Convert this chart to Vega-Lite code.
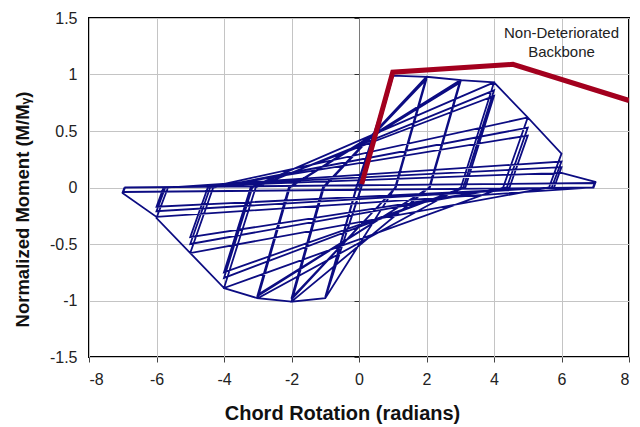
{
  "$schema": "https://vega.github.io/schema/vega-lite/v6.json",
  "width": 540,
  "height": 339,
  "autosize": {"type": "none"},
  "padding": {"left": 89, "top": 18, "right": 11, "bottom": 70},
  "background": "white",
  "config": {
    "view": {"stroke": "#000000", "strokeWidth": 2},
    "axis": {
      "grid": true,
      "gridColor": "#c4c4c4",
      "gridWidth": 1,
      "domain": false,
      "labelFont": "Liberation Sans",
      "labelFontSize": 16,
      "labelColor": "#222222",
      "titleFont": "Liberation Sans",
      "titleFontSize": 20,
      "titleFontWeight": "bold",
      "titleColor": "#111111"
    }
  },
  "datasets": {
    "hys": [
      {"i": 1, "x": 0, "y": 0}, {"i": 2, "x": 1, "y": 0.99}, {"i": 3, "x": 0.06, "y": 0},
      {"i": 4, "x": -1, "y": -0.98}, {"i": 5, "x": -0.07, "y": 0}, {"i": 6, "x": 1, "y": 0.98},
      {"i": 7, "x": 0.07, "y": 0}, {"i": 8, "x": -1, "y": -0.97}, {"i": 9, "x": -0.08, "y": 0},
      {"i": 10, "x": 1, "y": 0.98}, {"i": 11, "x": 0.07, "y": 0}, {"i": 12, "x": -1, "y": -0.97},
      {"i": 13, "x": -0.08, "y": 0},
      {"i": 14, "x": 1, "y": 0.99}, {"i": 15, "x": 2, "y": 0.98}, {"i": 16, "x": 1.07, "y": 0},
      {"i": 17, "x": -1, "y": -0.98}, {"i": 18, "x": -2, "y": -1.01}, {"i": 19, "x": -1.04, "y": 0},
      {"i": 20, "x": 2, "y": 0.97}, {"i": 21, "x": 1.08, "y": 0}, {"i": 22, "x": -2, "y": -0.99},
      {"i": 23, "x": -1.06, "y": 0}, {"i": 24, "x": 2, "y": 0.96}, {"i": 25, "x": 1.09, "y": 0},
      {"i": 26, "x": -2, "y": -0.98}, {"i": 27, "x": -1.07, "y": 0},
      {"i": 28, "x": 2, "y": 0.98}, {"i": 29, "x": 3, "y": 0.95}, {"i": 30, "x": 2.08, "y": 0},
      {"i": 31, "x": -2, "y": -1.01}, {"i": 32, "x": -3, "y": -0.98}, {"i": 33, "x": -2.05, "y": 0},
      {"i": 34, "x": 3, "y": 0.94}, {"i": 35, "x": 2.09, "y": 0}, {"i": 36, "x": -3, "y": -0.96},
      {"i": 37, "x": -2.07, "y": 0}, {"i": 38, "x": 3, "y": 0.93}, {"i": 39, "x": 2.1, "y": 0},
      {"i": 40, "x": -3, "y": -0.95}, {"i": 41, "x": -2.08, "y": 0},
      {"i": 42, "x": 3, "y": 0.95}, {"i": 43, "x": 4, "y": 0.93}, {"i": 44, "x": 3.02, "y": 0},
      {"i": 45, "x": -3, "y": -0.98}, {"i": 46, "x": -4, "y": -0.89}, {"i": 47, "x": -3.06, "y": 0},
      {"i": 48, "x": 4, "y": 0.86}, {"i": 49, "x": 3.09, "y": 0}, {"i": 50, "x": -4, "y": -0.8},
      {"i": 51, "x": -3.16, "y": 0}, {"i": 52, "x": 4, "y": 0.81}, {"i": 53, "x": 3.15, "y": 0},
      {"i": 54, "x": -4, "y": -0.75}, {"i": 55, "x": -3.21, "y": 0},
      {"i": 56, "x": 4, "y": 0.93}, {"i": 57, "x": 5, "y": 0.62}, {"i": 58, "x": 4.27, "y": 0},
      {"i": 59, "x": -4, "y": -0.89}, {"i": 60, "x": -5, "y": -0.58}, {"i": 61, "x": -4.32, "y": 0},
      {"i": 62, "x": 5, "y": 0.53}, {"i": 63, "x": 4.38, "y": 0}, {"i": 64, "x": -5, "y": -0.5},
      {"i": 65, "x": -4.41, "y": 0}, {"i": 66, "x": 5, "y": 0.46}, {"i": 67, "x": 4.46, "y": 0},
      {"i": 68, "x": -5, "y": -0.44}, {"i": 69, "x": -4.48, "y": 0},
      {"i": 70, "x": 5, "y": 0.62}, {"i": 71, "x": 6, "y": 0.3}, {"i": 72, "x": 5.63, "y": 0},
      {"i": 73, "x": -5, "y": -0.58}, {"i": 74, "x": -6, "y": -0.27}, {"i": 75, "x": -5.66, "y": 0},
      {"i": 76, "x": 6, "y": 0.23}, {"i": 77, "x": 5.71, "y": 0}, {"i": 78, "x": -6, "y": -0.21},
      {"i": 79, "x": -5.74, "y": 0}, {"i": 80, "x": 6, "y": 0.18}, {"i": 81, "x": 5.78, "y": 0},
      {"i": 82, "x": -6, "y": -0.17}, {"i": 83, "x": -5.79, "y": 0},
      {"i": 84, "x": 6, "y": 0.13}, {"i": 85, "x": 7, "y": 0.05}, {"i": 86, "x": 6.93, "y": 0},
      {"i": 87, "x": -6, "y": -0.26}, {"i": 88, "x": -7, "y": -0.05}, {"i": 89, "x": -6.93, "y": 0},
      {"i": 90, "x": 7, "y": 0.04}, {"i": 91, "x": 6.95, "y": 0}, {"i": 92, "x": -7, "y": -0.04},
      {"i": 93, "x": -6.95, "y": 0}
    ],
    "backbone": [
      {"i": 1, "x": 0.08, "y": 0.03},
      {"i": 2, "x": 1.0, "y": 1.02},
      {"i": 3, "x": 4.56, "y": 1.09},
      {"i": 4, "x": 8.0, "y": 0.77}
    ],
    "label": [
      {"x": 6.0, "y": 1.367, "text": "Non-Deteriorated"},
      {"x": 6.0, "y": 1.199, "text": "Backbone"}
    ]
  },
  "resolve": {"axis": {"y": "independent"}},
  "layer": [
    {
      "data": {"name": "hys"},
      "mark": {"type": "line", "color": "#0c0c82", "strokeWidth": 1.8, "clip": true},
      "encoding": {
        "x": {
          "field": "x", "type": "quantitative",
          "scale": {"domain": [-8, 8], "nice": false},
          "axis": {
            "title": "Chord Rotation (radians)",
            "values": [-8, -6, -4, -2, 0, 2, 4, 6, 8],
            "labelExpr": "datum.value + ''",
            "ticks": true, "tickSize": 5, "tickColor": "#444444",
            "labelPadding": 9,
            "titleX": 253, "titleY": 46, "titleBaseline": "top"
          }
        },
        "y": {
          "field": "y", "type": "quantitative",
          "scale": {"domain": [-1.5, 1.5], "nice": false},
          "axis": {
            "orient": "left",
            "title": "Normalized Moment (M/Mᵧ)",
            "titleFontSize": 18.5,
            "values": [-1.5, -1, -0.5, 0, 0.5, 1, 1.5],
            "labelExpr": "datum.value + ''",
            "ticks": false,
            "labelPadding": 12,
            "titleX": -67, "titleY": 191, "titleAngle": -90,
            "titleBaseline": "middle", "titleAlign": "center"
          }
        },
        "order": {"field": "i", "type": "quantitative"}
      }
    },
    {
      "data": {"name": "backbone"},
      "mark": {"type": "line", "color": "#a3001e", "strokeWidth": 5, "clip": true, "strokeJoin": "miter"},
      "encoding": {
        "x": {"field": "x", "type": "quantitative"},
        "y": {
          "field": "y", "type": "quantitative",
          "axis": {
            "orient": "left",
            "offset": -270,
            "values": [-1.5, -1, -0.5, 0, 0.5, 1, 1.5],
            "labels": false,
            "title": null,
            "grid": false,
            "domain": true,
            "domainColor": "#7a7a7a",
            "domainWidth": 1,
            "ticks": true,
            "tickSize": 5,
            "tickColor": "#333333"
          }
        },
        "order": {"field": "i", "type": "quantitative"}
      }
    },
    {
      "data": {"name": "label"},
      "mark": {"type": "text", "font": "Liberation Sans", "fontSize": 15, "color": "#222222", "align": "center", "baseline": "middle"},
      "encoding": {
        "x": {"field": "x", "type": "quantitative"},
        "y": {"field": "y", "type": "quantitative", "axis": null},
        "text": {"field": "text", "type": "nominal"}
      }
    }
  ]
}
